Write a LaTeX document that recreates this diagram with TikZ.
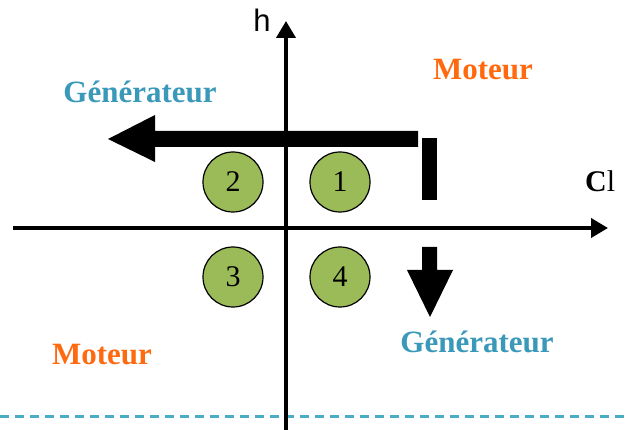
\documentclass[tikz,border=0pt]{standalone}
\usepackage{fontspec}
\setmainfont{Liberation Serif}
\newfontfamily\hfont{Liberation Sans}
\usetikzlibrary{arrows.meta}
\definecolor{quadgreen}{HTML}{9BBB59}
\definecolor{gentext}{HTML}{3A98B9}
\definecolor{mottext}{HTML}{FF6A10}
\definecolor{dashcol}{HTML}{4BACC6}
\tikzset{
  axis/.style={line width=4pt,-{Triangle[length=17pt,width=19pt]}},
  quad/.style={circle,draw=black,line width=1.2pt,fill=quadgreen,minimum size=60pt,inner sep=0pt,font=\fontsize{30}{34}\selectfont},
  gen/.style={text=gentext,font=\fontsize{31}{36}\selectfont\bfseries,inner sep=0pt},
  mot/.style={text=mottext,font=\fontsize{31}{36}\selectfont\bfseries,inner sep=0pt},
  bigarrow/.style={fill=black,draw=none}
}
\begin{document}
\begin{tikzpicture}[x=1pt,y=-1pt]
\useasboundingbox (0,0) rectangle (629,430);
% axes
\coordinate (vbot) at (286,432);
\coordinate (vtop) at (286,21);
\coordinate (hleft) at (13,228);
\coordinate (hright) at (608,228);
\draw[dashcol,line width=3pt,dash pattern=on 9pt off 6pt] (0,416) -- (629,416);
\draw[axis] (vbot) -- (vtop);
\draw[axis] (hleft) -- (hright);
\node[inner sep=0pt,font=\fontsize{31}{34}\hfont] (hlab) at (262,20) {h};
\node[inner sep=0pt,font=\fontsize{30}{34}\selectfont,anchor=west] (clab) at (585,181) {\textbf{C}l};
% quadrant circles
\node[quad] (q2) at (233,182) {2};
\node[quad] (q1) at (340,182) {1};
\node[quad] (q3) at (233,277) {3};
\node[quad] (q4) at (340,277) {4};
% big arrows
\fill[bigarrow] (418,131) -- (155,131) -- (155,115) -- (108,139) -- (155,162) -- (155,147) -- (418,147) -- cycle;
\fill[bigarrow] (422,138) rectangle (437,200);
\fill[bigarrow] (422,247) -- (437,247) -- (437,270) -- (453,270) -- (430,317) -- (407,270) -- (422,270) -- cycle;
% labels
\node[gen] (gtop) at (140,92) {Générateur};
\node[gen] (gbot) at (477,342) {Générateur};
\node[mot] (mtop) at (483,70) {Moteur};
\node[mot] (mbot) at (102,355) {Moteur};
\end{tikzpicture}
\end{document}
